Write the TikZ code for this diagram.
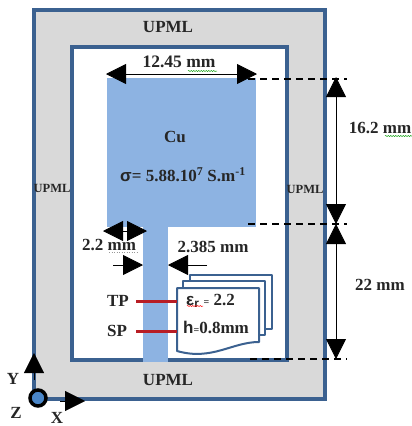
\documentclass[tikz,border=0pt]{standalone}
\usepackage{fontspec}
\setmainfont{Liberation Serif}
\newfontfamily\symfont{Liberation Sans}
\usetikzlibrary{arrows.meta,decorations.pathmorphing}
\definecolor{frameblue}{HTML}{3B6190}
\definecolor{patchblue}{HTML}{8DB3E2}
\definecolor{pmlgray}{HTML}{D9D9D9}
\definecolor{probered}{HTML}{B81D24}
\definecolor{originblue}{HTML}{4A86C8}
\tikzset{
  label/.style={font=\bfseries\fontsize{#1}{#1}\selectfont,inner sep=0pt,text=black!85},
  label/.default=17,
  bigarrow/.style={-{Triangle[length=20pt,width=20pt]},line width=0.8pt},
  guide/.style={dashed,dash pattern=on 7pt off 5pt,line width=1.2pt},
  sheet/.style={draw=frameblue,line width=2pt,fill=white,line join=round},
  probe/.style={probered,line width=3pt},
  squiggle/.style={decorate,decoration={snake,amplitude=0.5pt,segment length=2.5pt},line width=0.5pt}
}
\begin{document}
\begin{tikzpicture}[x=1pt,y=-1pt]
    \useasboundingbox (0,0) rectangle (412,426);

    % PML box and air box
    \draw[frameblue,line width=4pt,fill=pmlgray] (34,10) rectangle (325,399);
    \draw[frameblue,line width=4pt,fill=white] (72,47) rectangle (287,360);

    % Patch and feed line
    \fill[patchblue] (107,78) rectangle (256,227);
    \fill[patchblue] (143,227) rectangle (168,362);

    % Guides
    \coordinate (patchtop) at (336,77);
    \coordinate (patchend) at (336,224);
    \coordinate (feedend) at (336,359);
    \draw[guide] (248,79) -- (347,79);
    \draw[guide] (248,224) -- (347,224);
    \draw[guide] (250,359) -- (347,359);

    % Dimensions
    \coordinate (widthmid) at (181,74);
    \coordinate (widthleft) at (106,74);
    \coordinate (widthright) at (257,74);
    \draw[bigarrow] (widthmid) -- (widthleft);
    \draw[bigarrow] (widthmid) -- (widthright);
    \draw[bigarrow] (336,150) -- (patchtop);
    \draw[bigarrow] (336,150) -- (patchend);
    \draw[bigarrow] (336,290) -- (patchend);
    \draw[bigarrow] (336,290) -- (feedend);

    \coordinate (feedmid) at (125,231);
    \coordinate (feedleft) at (103,231);
    \coordinate (feedright) at (147,231);
    \draw[bigarrow] (feedmid) -- (feedleft);
    \draw[bigarrow] (feedmid) -- (feedright);
    \coordinate (gapout) at (113,265);
    \coordinate (gapin) at (143,265);
    \coordinate (gapback) at (207,265);
    \coordinate (gapedge) at (168,265);
    \draw[bigarrow] (gapout) -- (gapin);
    \draw[bigarrow] (gapback) -- (gapedge);

    % Substrate sheets
    \foreach \dx/\dy in {13/-13,6/-7}
        \draw[sheet,shift={(\dx,\dy)}] (177,288) rectangle (259,342);
    \draw[sheet] (177,288) -- (259,288) -- (259,342)
        .. controls (232,342) and (212,361) .. (177,351) -- cycle;

    % Texts
    \node[label] (pmltop) at (168,27) {UPML};
    \node[label] (pmlbottom) at (168,380) {UPML};
    \node[label=12.5] (pmlleft) at (52,188) {UPML};
    \node[label=12.5] (pmlright) at (305,189) {UPML};
    \node[label=17.5] (widthtext) at (179,62) {12.45 mm};
    \node[label] (cu) at (175,137) {Cu};
    \node[label] (sigma) at (183,175) {{\symfont σ}= 5.88.10\textsuperscript{7} S.m\textsuperscript{-1}};
    \node[label] (heighttext) at (380,128) {16.2 mm};
    \node[label] (feedtext) at (380,285) {22 mm};
    \node[label] (feedwidth) at (109,245) {2.2 mm};
    \node[label] (gaptext) at (213,247) {2.385 mm};
    \node[label] (tp) at (118,301) {TP};
    \node[label] (sp) at (117,331) {SP};
    \node[label,anchor=west] (eps) at (186,301) {{\symfont ε\textsubscript{r}} {\fontsize{10}{10}\selectfont =} 2.2};
    \node[label,anchor=west] (thick) at (183,327) {{\fontsize{17}{17}\selectfont\symfont h}{\fontsize{10}{10}\selectfont =}0.8mm};

    % Spelling marks
    \draw[squiggle,green!60!black] (188,71) -- (217,71);
    \draw[squiggle,green!60!black] (385,136) -- (412,136);
    \draw[black!40,dotted,line width=0.5pt] (109,252) -- (138,252);
    \draw[squiggle,red] (187,306) -- (203,306);

    % Probes
    \coordinate (tpend) at (177,301);
    \coordinate (spend) at (177,331);
    \draw[probe] (136,301) -- (tpend);
    \draw[probe] (136,331) -- (spend);

    % Axes
    \coordinate (ybase) at (34,380);
    \coordinate (xbase) at (60,401);
    \coordinate (ytip) at (34,353);
    \coordinate (xtip) at (85,401);
    \draw[-{Triangle[length=20pt,width=20pt]},black] (ybase) -- (ytip);
    \draw[-{Triangle[length=20pt,width=20pt]},black] (xbase) -- (xtip);
    \node[circle,draw=black,line width=3.5pt,fill=originblue,minimum size=16pt,inner sep=0pt] (origin) at (38,398) {};
    \node[label] (ylabel) at (13,379) {Y};
    \node[label] (zlabel) at (16,413) {Z};
    \node[label] (xlabel) at (57,418) {X};
\end{tikzpicture}
\end{document}
